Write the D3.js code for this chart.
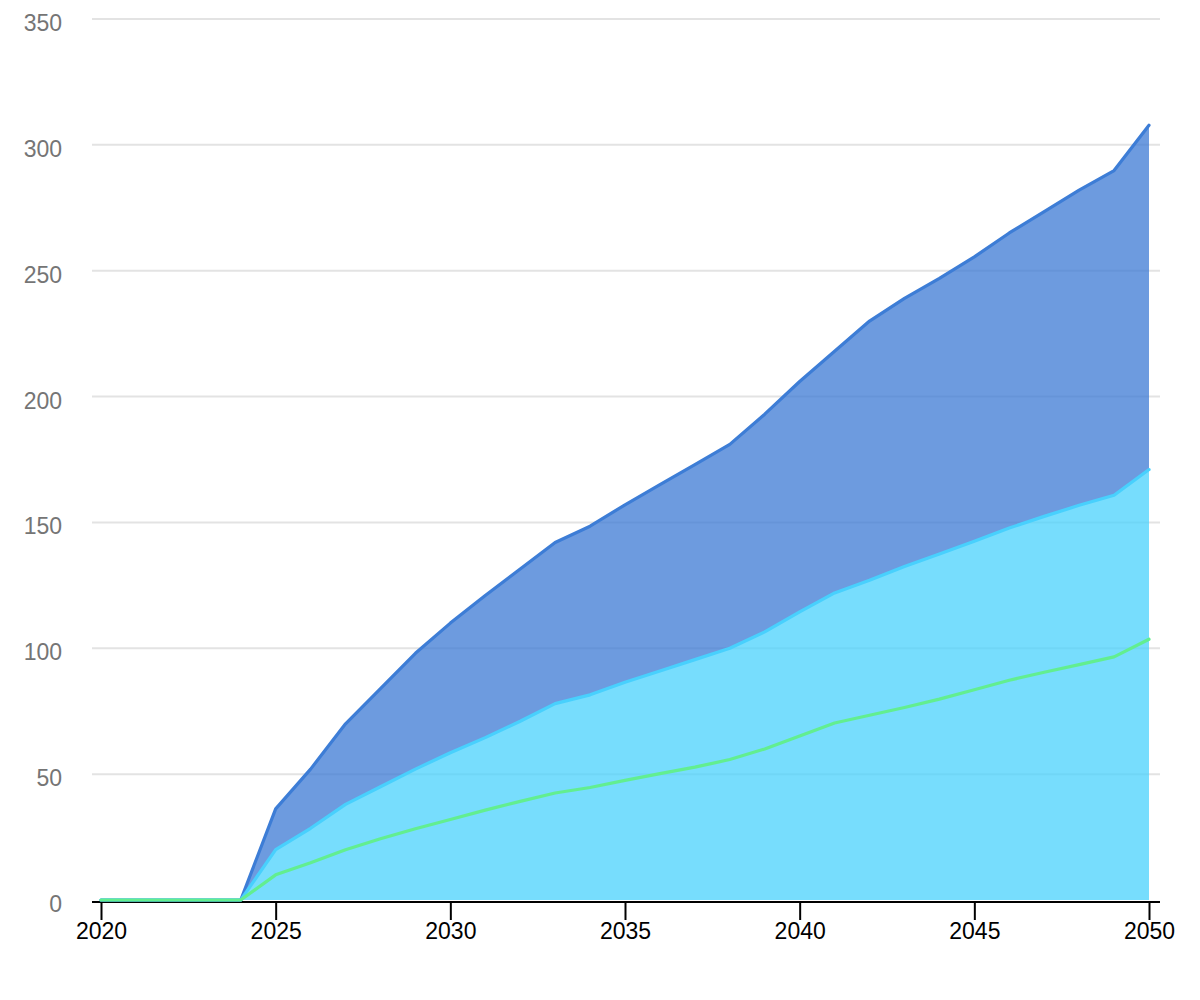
<!DOCTYPE html>
<html>
<head>
<meta charset="utf-8">
<script src="https://cdn.jsdelivr.net/npm/d3@7"></script>
<style>
  body { margin: 0; background: #fff; }
  svg { display: block; font-family: "Liberation Sans", Arial, sans-serif; }
</style>
</head>
<body>
<div id="chart"></div>
<script>
// values
const years = d3.range(2020, 2051);
const totalValues = [0, 0, 0, 0, 0, 36.2, 52, 70, 84, 98, 110, 121, 131.5, 142, 148.5, 157,
  165, 173, 181, 193, 206, 218, 230, 239, 247, 255.5, 265, 273.5, 282, 289.8, 307.8];
const midValues = [0, 0, 0, 0, 0, 20, 28.5, 38, 45, 52, 58.5, 64.5, 71, 78, 81.5, 86.5,
  91, 95.5, 100, 106.5, 114.5, 122, 127, 132.5, 137.5, 142.5, 147.8, 152.4, 156.8, 160.8, 171];
const lowValues = [0, 0, 0, 0, 0, 10, 14.8, 20, 24.3, 28.3, 32, 35.7, 39.2, 42.5, 44.7, 47.5,
  50.2, 52.8, 55.8, 60, 65.2, 70.3, 73.4, 76.5, 79.8, 83.5, 87.3, 90.5, 93.5, 96.6, 103.6];
const yTicks = [0, 50, 100, 150, 200, 250, 300, 350];
const xTicks = [2020, 2025, 2030, 2035, 2040, 2045, 2050];

const width = 1200, height = 1000;
const gridLeft = 92, gridRight = 1160;

const svg = d3.select("#chart").append("svg")
  .attr("width", width)
  .attr("height", height);

const x = d3.scaleLinear().domain([2020, 2050]).range([101, 1149]);
const y = d3.scaleLinear().domain([0, 350]).range([900, 19]);

const rows = years.map((yr, i) => ({ year: yr, total: totalValues[i], mid: midValues[i], low: lowValues[i] }));

// gridlines
svg.append("g")
  .selectAll("line")
  .data(yTicks.slice(1))
  .enter().append("line")
  .attr("x1", gridLeft).attr("x2", gridRight)
  .attr("y1", d => y(d)).attr("y2", d => y(d))
  .attr("stroke", "#e3e3e3")
  .attr("stroke-width", 2);

// y labels
svg.append("g")
  .selectAll("text")
  .data(yTicks)
  .enter().append("text")
  .attr("x", 62)
  .attr("y", d => y(d) + 12)
  .attr("text-anchor", "end")
  .attr("fill", "#757575")
  .style("font-size", "23px")
  .text(d => d);

// filled bands
const topBand = d3.area()
  .x(d => x(d.year))
  .y0(d => y(d.mid))
  .y1(d => y(d.total));
const midBand = d3.area()
  .x(d => x(d.year))
  .y0(y(0))
  .y1(d => y(d.mid));

svg.append("path")
  .datum(rows)
  .attr("d", topBand)
  .attr("fill", "#3c7ad4")
  .attr("fill-opacity", 0.75);

svg.append("path")
  .datum(rows)
  .attr("d", midBand)
  .attr("fill", "#4ad2fc")
  .attr("fill-opacity", 0.75);

// axis line and ticks
const xAxis = d3.axisBottom(x)
  .tickValues(xTicks)
  .tickFormat(d3.format("d"))
  .tickSize(18)
  .tickSizeOuter(0);

const ax = svg.append("g")
  .attr("transform", "translate(0,902)")
  .call(xAxis);
ax.select(".domain").remove();
ax.append("line")
  .attr("x1", gridLeft).attr("x2", gridRight)
  .attr("y1", 0).attr("y2", 0)
  .attr("stroke", "#000")
  .attr("stroke-width", 2);
ax.selectAll(".tick line").attr("stroke", "#000").attr("stroke-width", 2);
ax.selectAll(".tick text")
  .attr("y", 37)
  .attr("dy", 0)
  .attr("fill", "#000")
  .style("font-family", "'Liberation Sans', Arial, sans-serif")
  .style("font-size", "23px");

// series lines
const lineOf = key => d3.line().x(d => x(d.year)).y(d => y(d[key]));

[["total", "#3d7dd6"], ["mid", "#48d0fd"], ["low", "#62ee90"]].forEach(([key, color]) => {
  svg.append("path")
    .datum(rows)
    .attr("d", lineOf(key))
    .attr("fill", "none")
    .attr("stroke", color)
    .attr("stroke-width", 3.2)
    .attr("stroke-linejoin", "round")
    .attr("stroke-linecap", "round");
});
</script>
</body>
</html>
